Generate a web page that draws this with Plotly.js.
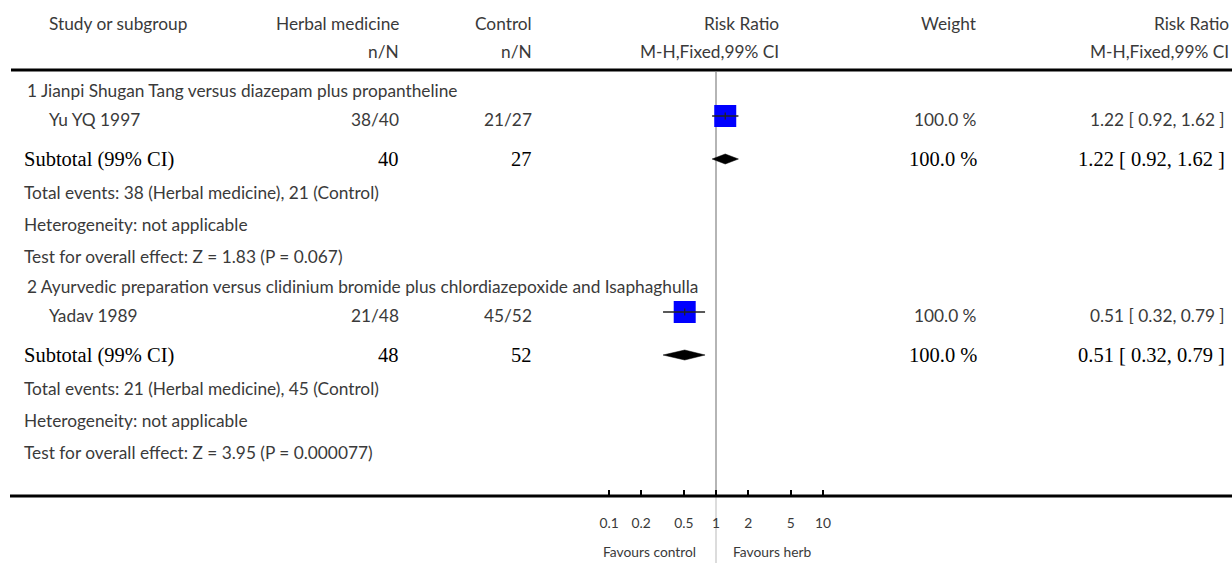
<!DOCTYPE html>
<html>
<head>
<meta charset="utf-8">
<script src="https://cdn.plot.ly/plotly-3.0.1.min.js"></script>
<style>
  html, body { margin: 0; padding: 0; background: #fff; }
  #plot { width: 1232px; height: 563px; }
</style>
</head>
<body>
<div id="plot"></div>
<script>
// ---- Data ----
const subgroupTitles = [
  '1 Jianpi Shugan Tang versus diazepam plus propantheline',
  '2 Ayurvedic preparation versus clidinium bromide plus chlordiazepoxide and Isaphaghulla'
];
const studyNames = ['Yu YQ 1997', 'Yadav 1989'];
const herbalEvents = [38, 21];
const herbalTotal = [40, 48];
const controlEvents = [21, 45];
const controlTotal = [27, 52];
const studyRR = [1.22, 0.51];
const studyLow = [0.92, 0.32];
const studyHigh = [1.62, 0.79];
const studyWeight = [100.0, 100.0];

const subtotalRR = [1.22, 0.51];
const subtotalLow = [0.92, 0.32];
const subtotalHigh = [1.62, 0.79];
const subtotalWeight = [100.0, 100.0];
const heterogeneityText = ['not applicable', 'not applicable'];
const zValues = ['1.83', '3.95'];
const pValues = ['0.067', '0.000077'];

const tickValues = [0.1, 0.2, 0.5, 1, 2, 5, 10];
const tickLabels = ['0.1', '0.2', '0.5', '1', '2', '5', '10'];
const favoursLeft = 'Favours control';
const favoursRight = 'Favours herb';

// ---- Page geometry ----
const W = 1232, H = 563;
const axisY = 496;          // y (px) of the bottom axis line
const headerLineY = 70;
const refX = 716;           // px position of RR = 1
const pxPerDecade = 107;
const logHalfSpan = 1.5;

const colStudy = 47, colGroup = 25, colSummary = 22;
const colHerbal = 401, colControl = 534;
const colForest = 781;
const colWeight = 979, colRR = 1227, colRRHead = 1231;

const groupTop = [90, 286];
const rowOffset = { title: 0, study: 29, subtotal: 69, events: 102, hetero: 134, test: 166 };

const regFont = { family: 'Lato, "Open Sans", sans-serif', size: 17.3, color: '#3a3a3a' };
const boldFont = { family: '"Liberation Serif", "DejaVu Serif", serif', size: 20.5, color: '#000' };
const smallFont = { family: 'Lato, "Open Sans", sans-serif', size: 13.8, color: '#3a3a3a' };

const px = v => v / W;
const fmt2 = v => v.toFixed(2);
const ciText = (r, l, h) => `${fmt2(r)} [ ${fmt2(l)}, ${fmt2(h)} ]`;

const annotations = [];
function label(text, x, y, anchor, font) {
  annotations.push({
    text, x: px(x), xref: 'paper', y, yref: 'y',
    xanchor: anchor, yanchor: 'middle', showarrow: false, font
  });
}

// Header
label('Study or subgroup', colStudy, 23, 'left', regFont);
label('Herbal medicine', colHerbal, 23, 'right', regFont);
label('Control', colControl, 23, 'right', regFont);
label('Risk Ratio', colForest, 23, 'right', regFont);
label('Weight', colWeight, 23, 'right', regFont);
label('Risk Ratio', colRRHead, 23, 'right', regFont);
label('n/N', colHerbal, 51, 'right', regFont);
label('n/N', colControl, 51, 'right', regFont);
label('M-H,Fixed,99% CI', colForest, 51, 'right', regFont);
label('M-H,Fixed,99% CI', colRRHead, 51, 'right', regFont);

const traces = [];
studyNames.forEach((name, g) => {
  const top = groupTop[g];
  const yStudy = top + rowOffset.study;
  const ySub = top + rowOffset.subtotal;

  label(subgroupTitles[g], colGroup, top, 'left', regFont);
  label(name, colStudy, yStudy, 'left', regFont);
  label(`${herbalEvents[g]}/${herbalTotal[g]}`, colHerbal, yStudy, 'right', regFont);
  label(`${controlEvents[g]}/${controlTotal[g]}`, colControl, yStudy, 'right', regFont);
  label(`${studyWeight[g].toFixed(1)} %`, colWeight, yStudy, 'right', regFont);
  label(ciText(studyRR[g], studyLow[g], studyHigh[g]), colRR, yStudy, 'right', regFont);

  label('Subtotal (99% CI)', colSummary, ySub, 'left', boldFont);
  label(String(herbalTotal[g]), colHerbal, ySub, 'right', boldFont);
  label(String(controlTotal[g]), colControl, ySub, 'right', boldFont);
  label(`${subtotalWeight[g].toFixed(1)} %`, colWeight, ySub, 'right', boldFont);
  label(ciText(subtotalRR[g], subtotalLow[g], subtotalHigh[g]), colRR, ySub, 'right', boldFont);

  label(`Total events: ${herbalEvents[g]} (Herbal medicine), ${controlEvents[g]} (Control)`,
        colSummary, top + rowOffset.events, 'left', regFont);
  label(`Heterogeneity: ${heterogeneityText[g]}`, colSummary, top + rowOffset.hetero, 'left', regFont);
  label(`Test for overall effect: Z = ${zValues[g]} (P = ${pValues[g]})`,
        colSummary, top + rowOffset.test, 'left', regFont);

  // study square (area scaled by weight)
  const ym = yStudy - 3;
  traces.push({
    type: 'scatter', mode: 'markers', x: [studyRR[g]], y: [ym],
    marker: { symbol: 'square', size: 22 * Math.sqrt(studyWeight[g] / 100), color: '#0000ff', line: { width: 0 } },
    hoverinfo: 'skip', showlegend: false
  });
  // confidence interval line drawn over the square
  traces.push({
    type: 'scatter', mode: 'lines', x: [studyLow[g], studyHigh[g]], y: [ym, ym],
    line: { color: '#222', width: 1.3 }, hoverinfo: 'skip', showlegend: false
  });
  traces.push({
    type: 'scatter', mode: 'markers', x: [studyRR[g]], y: [ym],
    marker: { symbol: 'line-ns', size: 5, line: { color: '#222', width: 1.3 } },
    hoverinfo: 'skip', showlegend: false
  });
  // pooled diamond
  const dh = 5;
  traces.push({
    type: 'scatter', mode: 'lines', fill: 'toself', fillcolor: '#000',
    x: [subtotalLow[g], subtotalRR[g], subtotalHigh[g], subtotalRR[g], subtotalLow[g]],
    y: [ySub, ySub - dh, ySub, ySub + dh, ySub],
    line: { color: '#000', width: 0.5 }, hoverinfo: 'skip', showlegend: false
  });
});

// favours labels under the axis
label(favoursLeft, 698, 551, 'right', smallFont);
label(favoursRight, 731, 551, 'left', smallFont);

const domainLeft = px(refX - logHalfSpan * pxPerDecade);
const domainRight = px(refX + logHalfSpan * pxPerDecade);

const layout = {
  width: W, height: H,
  margin: { l: 0, r: 0, t: 0, b: 0, pad: 0 },
  paper_bgcolor: '#fff', plot_bgcolor: 'rgba(0,0,0,0)',
  showlegend: false,
  xaxis: {
    type: 'log', range: [-logHalfSpan, logHalfSpan],
    domain: [domainLeft, domainRight],
    anchor: 'free', position: (H - axisY) / H,
    showgrid: false, zeroline: false, showline: false,
    tickmode: 'array', tickvals: tickValues, ticktext: tickLabels,
    ticks: 'inside', ticklen: 6, tickwidth: 2, tickcolor: '#000',
    ticklabelstandoff: 17,
    tickfont: smallFont, fixedrange: true
  },
  yaxis: {
    range: [H, 0], domain: [0, 1], visible: false, fixedrange: true
  },
  shapes: [
    { type: 'line', xref: 'x', yref: 'y', x0: 1, x1: 1, y0: headerLineY + 2, y1: axisY,
      line: { color: '#b5b5b5', width: 2 }, layer: 'below' },
    { type: 'line', xref: 'x', yref: 'y', x0: 1, x1: 1, y0: axisY, y1: H,
      line: { color: '#dcdcdc', width: 2 }, layer: 'below' },
    { type: 'line', xref: 'paper', yref: 'y', x0: px(11), x1: 1, y0: headerLineY, y1: headerLineY,
      line: { color: '#000', width: 3 } },
    { type: 'line', xref: 'paper', yref: 'y', x0: px(10), x1: 1, y0: axisY, y1: axisY,
      line: { color: '#000', width: 3 } }
  ],
  annotations
};

Plotly.newPlot('plot', traces, layout, { displayModeBar: false, staticPlot: true });
</script>
</body>
</html>
